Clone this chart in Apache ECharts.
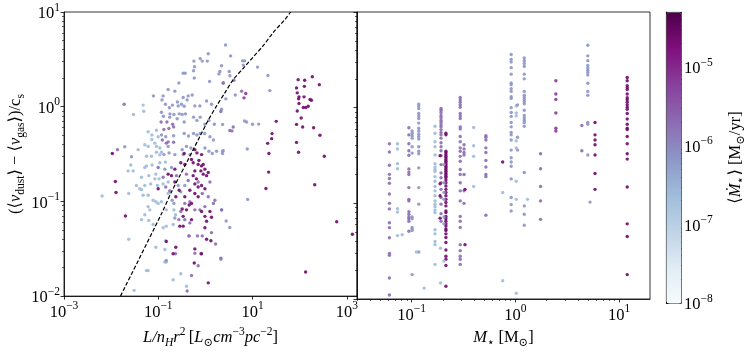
<!DOCTYPE html>
<html>
<head>
<meta charset="utf-8">
<script src="https://cdn.jsdelivr.net/npm/echarts@6/dist/echarts.min.js"></script>
<style>html,body{margin:0;padding:0;background:#fff}#main{width:748px;height:354px}</style>
</head>
<body>
<div id="main"></div>
<script>
// accretion rate groups (Msun/yr) used for the colour of each point
var mdotLight = 2.5e-7, mdotLav = 7e-7, mdotPurp = 2e-6, mdotMag = 7e-6, mdotDark = 2.5e-5;

// left panel: [L/nH r^2, dv/cs]
var leftLight = [[0.0478,1.04],[0.0493,0.895],[0.0298,0.826],[0.0916,0.565],[0.061,0.543],[0.073,0.502],[0.0995,0.482],[0.0845,0.412],[0.0518,0.396],[0.061,0.381],[0.0916,0.381],[0.108,0.366],[0.0374,0.352],[0.073,0.45],[0.0916,0.33],[0.108,0.31],[0.0562,0.30],[0.0718,0.30],[0.117,0.33],
  [0.0261,0.242],[0.0229,0.21],[0.0293,0.21],[0.0518,0.228],[0.0562,0.237],[0.074,0.242],[0.108,0.256],[0.142,0.26],[0.0888,0.194],[0.063,0.187],[0.044,0.18],[0.0845,0.173],[0.104,0.173],[0.0344,0.147],[0.0405,0.136],[0.044,0.133],[0.0518,0.147],[0.069,0.153],[0.0963,0.147],[0.127,0.153],[0.162,0.16],[0.0236,0.121],[0.0478,0.116],[0.061,0.116],[0.0778,0.103],[0.0888,0.099],[0.0995,0.0953],[0.117,0.099],[0.162,0.121],[0.00643,0.114],[0.061,0.0881],[0.066,0.0814],[0.0518,0.0723],[0.148,0.0814],[0.215,0.0814],[0.233,0.0723],[0.044,0.0642],[0.063,0.063],[0.0778,0.057],[0.127,0.0527],[0.148,0.0548],[0.207,0.057],[0.0236,0.0399],[0.0888,0.0328],[0.144,0.0384],[0.138,0.031],[0.138,0.0229],[0.148,0.0229],[0.0562,0.0186],[0.061,0.0186],[0.301,0.0172],[0.207,0.0149],[0.397,0.0127],[0.0307,0.0115]];
var leftLav = [[1.15,3.63],[0.777,3.22],[0.858,3.03],[0.571,3.03],[1.10,3.03],[0.590,2.64],[0.562,2.40],[2.03,2.35],[1.94,2.22],[0.338,2.26],[0.372,2.26],[0.581,2.01],[0.274,1.78],[1.23,1.85],
  [0.162,1.52],[0.225,1.46],[0.079,1.30],[0.127,1.30],[0.120,1.18],[0.338,1.25],[0.431,1.30],[0.525,1.33],[0.410,1.18],[0.256,1.12],[0.311,1.06],[0.142,1.06],[0.200,1.04],[0.265,1.02],[0.172,0.976],[0.355,1.01],[0.598,1.02],[0.764,1.02],[1.06,1.15],[1.35,1.06],
  [0.117,0.874],[0.129,0.794],[0.177,0.84],[0.215,0.826],[0.278,0.84],[0.322,0.826],[0.378,0.84],[0.175,0.776],[0.252,0.746],[0.355,0.689],[0.562,0.776],[0.661,0.717],[0.777,0.776],[0.977,0.652],[1.19,0.717],[1.55,0.652],
  [0.117,0.502],[0.144,0.482],[0.212,0.494],[0.355,0.522],[0.438,0.49],[0.562,0.522],[0.661,0.502],[0.777,0.522],[0.963,0.522],[1.25,0.482],[1.48,0.445],
  [0.162,0.381],[0.322,0.352],[0.397,0.381],[0.492,0.366],[0.977,0.366],[1.19,0.338],[1.40,0.32],[1.73,0.338],[2.32,0.338],
  [0.027,0.296],[0.132,0.312],[0.170,0.325],[0.225,0.312],[0.338,0.312],[0.469,0.312],[0.0195,0.378],
  [0.138,0.219],[0.191,0.228],[0.265,0.147],[0.301,0.126],[0.215,0.0953],[0.366,0.147],[0.225,0.0668],[0.445,0.0432],[0.148,0.0238],[0.197,0.103],
  [2.68,4.49],[3.43,3.44],[6.17,3.05],[6.79,3.05],[6.37,2.75],[12.8,2.62],[2.2,2.71],[3.21,2.35],[3.31,2.12],[2.39,1.78],[21.3,2.14],[4.31,1.33],[2.72,1.21],[23.4,1.48],[2.2,0.94],[6.79,0.706],[7.5,0.69],[10.0,0.652],[13.5,0.655],[2.32,0.65],[7.74,0.357],[2.39,0.344],[2.32,0.32],
  [7.9,0.105],[2.2,0.081],[2.76,0.062],[3.3,0.053],[2.14,0.0245]];
var leftPurp = [[2.40,1.78],[0.0189,1.06],[0.115,0.689],[0.153,0.689],[0.202,0.652],[0.212,0.612],[0.168,0.588],[0.132,0.574],[0.122,0.445],[0.148,0.412],[0.162,0.425],[0.212,0.421],[0.0136,0.352],
  [0.244,0.187],[0.397,0.194],[0.431,0.166],[0.703,0.160],[1.25,0.160],[0.858,0.121],[1.15,0.112],[1.59,0.103],[1.48,0.0953],[0.977,0.0881],[0.598,0.0814],[0.764,0.0814],[0.366,0.0953],[0.468,0.099],[0.301,0.0783],[0.274,0.0642],[0.366,0.0642],[0.468,0.0593],[0.453,0.0432],[0.680,0.0432],[0.858,0.0432],[0.598,0.0284],[0.803,0.028],[1.35,0.0468],[1.65,0.0355],[2.13,0.0252],[2.21,0.0814],[0.233,0.028],[0.508,0.0165],[0.703,0.0209],[0.41,0.0113],
  [0.127,0.180],[0.0995,0.228],[0.144,0.142],[0.175,0.129],
  [4.03,1.90],[5.87,1.46],[2.13,0.89],[3.9,0.61],[3.31,0.56],[3.66,0.555]];
var leftMag = [[7.2,1.38],[6.6,1.24]];
var leftDark = [[0.301,0.256],[0.366,0.246],[0.551,0.256],[0.703,0.246],[0.830,0.237],[0.598,0.210],[0.803,0.210],[0.977,0.219],[1.15,0.202],[0.551,0.187],[0.648,0.173],[0.901,0.194],[1.06,0.187],[0.598,0.153],[0.703,0.142],[0.830,0.147],[0.977,0.136],[0.468,0.131],[0.598,0.121],[0.703,0.112],[0.508,0.0953],[0.453,0.0916],[0.366,0.112],[0.236,0.112],[0.278,0.131],[0.225,0.160],[0.191,0.187],[0.225,0.219],[0.162,0.194],[0.322,0.083],[0.397,0.0814],[0.338,0.0695],[0.508,0.0642],[0.287,0.0548],[0.338,0.0548],[0.977,0.0695],[1.06,0.0617],[0.830,0.0783],[0.977,0.0527],[1.25,0.0783],[1.35,0.068],[0.148,0.0377],[0.236,0.0328],[0.207,0.028],[0.598,0.0315],[0.830,0.028],[1.06,0.0399],[1.31,0.0384],[0.581,0.0224],[1.15,0.0138],
  [0.0123,0.162],[0.0127,0.124],[0.0201,0.070],[0.0995,0.136],
  [0.0106,0.320],[0.598,0.352],[0.661,0.325],[0.830,0.312],[0.355,0.320],[0.508,0.277],[0.73,0.27],[0.90,0.246],
  [93,1.93],[128,1.90],[186,2.07],[262,1.71],[86,1.58],[126,1.64],[89,1.40],[97,1.27],[95,1.21],[124,1.27],[166,1.19],[178,1.17],[97,1.08],[120,0.98],[136,0.98],[152,1.01],[89,0.90],[108,0.76],[86,0.65],[116,0.61],[198,0.60],[270,0.50],[86,0.42],[95,0.33],[334,0.30],[31.9,0.70],[26,0.52],[25.5,0.46],[21,0.41],[22.3,0.32],
  [22,0.204],[19.3,0.137],[209,0.150],[612,0.061],[1320,0.045],[134,0.018]];

// dashed curve on the left panel
var curve = [[0.0158,0.01],[0.117,0.074],[0.191,0.126],[0.287,0.187],[0.398,0.256],[0.551,0.352],[0.763,0.483],[1.15,0.72],[1.73,1.02],[2.59,1.40],[3.89,1.93],[6.35,2.54],[10.4,3.36],[16.9,4.42],[27.5,6.07],[48.9,8.33],[64.6,10]];

// right panel: one column of points per stellar mass (Msun)
var starMass = [0.061,0.073,0.094,0.101,0.117,0.168,0.192,0.214,0.294,0.32,0.396,0.52,0.755,0.912,1.02,1.05,1.22,1.75,2.46,4.38,5.0,5.25,5.87,12.0,
  0.188,0.327,0.755,0.111,0.132,0.081,0.19,0.205,1.31,0.205];
var starMdot = [mdotPurp,mdotLight,mdotPurp,mdotLav,mdotLav,mdotLight,mdotPurp,mdotDark,mdotPurp,mdotPurp,mdotLight,mdotPurp,mdotLight,mdotLav,mdotLight,mdotLav,mdotLav,mdotPurp,mdotMag,mdotPurp,mdotLav,mdotLav,mdotDark,mdotDark,
  mdotDark,mdotDark,mdotDark,mdotLight,mdotLight,mdotLight,mdotLight,mdotLight,mdotLight,mdotLav];
var starDv = [
  [0.419,0.344,0.250,0.201,0.182,0.162,0.125,0.100,0.0875,0.0627,0.0557,0.0436,0.0300,0.0286,0.0166,0.0110],
  [0.42,0.37,0.26,0.23,0.088,0.081,0.046],
  [0.617,0.519,0.42,0.355,0.318,0.229,0.212,0.20,0.146,0.11,0.106,0.082,0.077,0.072,0.069,0.065,0.051],
  [0.57,0.54,0.51,0.48,0.39,0.335,0.072,0.069,0.056,0.054,0.052,0.018],
  [1.09,1.04,0.98,0.87,0.82,0.77,0.69,0.61,0.57,0.53,0.50,0.47,0.39,0.35,0.33,0.235,0.146,0.098,0.031],
  [0.64,0.54,0.44,0.39,0.32,0.26,0.24,0.226,0.215,0.19,0.17,0.15,0.135,0.12,0.106,0.098,0.092,0.085,0.080,0.053,0.048,0.04,0.037,0.023],
  [0.98,0.94,0.89,0.83,0.79,0.74,0.70,0.66,0.63,0.59,0.55,0.52,0.48,0.43,0.39,0.355,0.315,0.254,0.208,0.185,0.164,0.14,0.115,0.098,0.078,0.065],
  [0.54,0.52,0.35,0.337,0.323,0.31,0.298,0.286,0.275,0.264,0.254,0.244,0.235,0.226,0.217,0.208,0.20,0.192,0.185,0.175,0.164,0.152,0.14,0.13,0.12,0.11,0.102,0.094,0.083,0.080,0.073,0.069,0.065,0.061,0.058,0.054,0.052,0.048,0.044,0.039,0.0325,0.028,0.026,0.0224,0.0136],
  [1.28,1.21,1.14,1.07,1.01,0.87,0.82,0.77,0.63,0.60,0.50,0.44,0.38,0.35,0.31,0.275,0.226,0.20,0.164,0.135,0.106,0.073,0.065,0.056,0.037,0.032,0.028,0.026,0.023],
  [0.41,0.37,0.34,0.32,0.20,0.135,0.10],
  [0.62,0.40,0.31,0.15],
  [0.51,0.49,0.46,0.38,0.34,0.28,0.24,0.20,0.19,0.075],
  [0.13,0.0155],
  [3.6,3.2,3.0,2.62,2.24,1.81,1.74,1.58,1.48,1.30,1.25,1.0,0.89,0.81,0.70,0.63,0.55,0.52,0.46,0.36,0.30,0.27,0.244,0.18,0.115,0.097,0.083],
  [1.04,0.88,0.82,0.45,0.38,0.17,0.11,0.0115],
  [1.07,0.49,0.36],
  [3.3,3.1,2.9,2.7,2.24,2.0,1.48,1.35,1.28,1.22,1.16,1.10,0.94,0.83,0.78,0.74,0.70,0.64,0.21,0.094,0.077,0.059],
  [0.33,0.23,0.15,0.106,0.068],
  [1.91,1.39,1.22,0.88,0.61,0.57],
  [0.65,0.355],
  [4.5,3.48,3.10,2.76,2.6,2.46,2.33,2.19,1.80,1.48,1.35,0.70,0.67,0.32],
  [0.103],
  [0.70,0.52,0.46,0.41,0.32,0.205,0.14],
  [2.07,1.91,1.70,1.62,1.55,1.39,1.27,1.21,1.14,1.07,1.01,0.96,0.87,0.76,0.67,0.61,0.59,0.50,0.42,0.33,0.29,0.148,0.061,0.045,0.018],
  [0.315,0.16,0.12,0.07],
  [0.14,0.037],
  [0.27],
  [0.031],
  [0.013],
  [0.047],
  [0.034,0.0147],
  [0.025],
  [0.11],
  [0.254,0.164,0.13,0.11,0.072,0.061]
];

var bupu = ['#f7fcfd','#e0ecf4','#bfd3e6','#9ebcda','#8c96c6','#8c6bb1','#88419d','#810f7c','#4d004b'];
var mdotMin = 1e-8, mdotMax = 5e-5;

var F = "'Liberation Serif','DejaVu Serif',serif";

var leftData = [];
[[leftLight,mdotLight],[leftLav,mdotLav],[leftPurp,mdotPurp],[leftMag,mdotMag],[leftDark,mdotDark]].forEach(function(g){
  g[0].forEach(function(p){ leftData.push([p[0], p[1], Math.log10(g[1])]); });
});
var rightData = [];
starMass.forEach(function(m, i){
  starDv[i].forEach(function(v){ rightData.push([m, v, Math.log10(starMdot[i])]); });
});

function minorTicks(lo, hi){
  var out = [];
  for (var e = lo; e < hi; e++) for (var k = 2; k < 10; k++) out.push(+(k * Math.pow(10, e)).toPrecision(3));
  return out;
}
function pow10(v){
  var e = Math.round(Math.log10(v));
  return '{b|10}{e|' + (e < 0 ? '\u2212' + (-e) : e) + '}';
}
var tickRich = {
  b: {fontFamily:F, fontSize:16.5, color:'#000', lineHeight:21, verticalAlign:'bottom'},
  e: {fontFamily:F, fontSize:11.5, color:'#000', lineHeight:12, verticalAlign:'top'}
};
var nameRich = {
  n: {fontFamily:F, fontSize:16.5, color:'#000', lineHeight:23},
  i: {fontFamily:F, fontSize:16.5, fontStyle:'italic', color:'#000', lineHeight:23},
  sub: {fontFamily:F, fontSize:11.5, color:'#000', lineHeight:12, verticalAlign:'bottom'},
  isub: {fontFamily:F, fontSize:11.5, fontStyle:'italic', color:'#000', lineHeight:12, verticalAlign:'bottom'},
  sup: {fontFamily:F, fontSize:11.5, color:'#000', lineHeight:12, verticalAlign:'top'}
};

var lineCol = '#000';
function mainAxis(o){
  var base = {
    type:'log', logBase:10, splitLine:{show:false},
    axisLine:{show:true, lineStyle:{color:lineCol, width:0.8}},
    axisTick:{show:true, inside:false, length:3.5, lineStyle:{color:lineCol, width:0.8}},
    axisLabel:{show:true, formatter:pow10, rich:tickRich, margin:4},
    nameTextStyle:{rich:nameRich}
  };
  return echarts.util.merge(base, o, true);
}
function minorAxis(o){
  var base = {
    type:'log', logBase:10, splitLine:{show:false},
    axisLine:{show:false}, axisLabel:{show:false},
    axisTick:{show:true, inside:false, length:2, lineStyle:{color:lineCol, width:0.6}}
  };
  return echarts.util.merge(base, o, true);
}

var leftXTicks = [1e-3,1e-1,10,1000];
var yTicks = [0.01,0.1,1,10];
var rightXTicks = [0.1,1,10];
var cbTicks = [1e-8,1e-7,1e-6,1e-5];

var myChart = echarts.init(document.getElementById('main'));
var opt = {
  animation:false,
  backgroundColor:'#fff',
  grid:[
    {left:64, top:12, width:293, height:291, show:true, borderColor:lineCol, borderWidth:0.8, backgroundColor:'transparent'},
    {left:357, top:12, width:293, height:291, show:true, borderColor:lineCol, borderWidth:0.8, backgroundColor:'transparent'},
    {left:666, top:12, width:15, height:291, show:false}
  ],
  xAxis:[
    mainAxis({gridIndex:0, position:'bottom', min:1e-3, max:1650,
      axisTick:{customValues:leftXTicks}, axisLabel:{customValues:leftXTicks},
      name:'{i|L/n}{isub|H}{i|r}{sup|2} {n|[}{i|L}{sub|\u2299}{i|cm}{sup|\u22123}{i|pc}{sup|\u22122}{n|]}',
      nameLocation:'middle', nameGap:27}),
    mainAxis({gridIndex:1, position:'bottom', min:0.0297, max:19.9,
      axisTick:{customValues:rightXTicks}, axisLabel:{customValues:rightXTicks},
      name:'{i|M}{sub|\u22c6} {n|[M}{sub|\u2299}{n|]}', nameLocation:'middle', nameGap:27}),
    {gridIndex:2, type:'value', show:false, min:0, max:1},
    minorAxis({gridIndex:1, position:'bottom', min:0.0297, max:19.9, axisTick:{customValues:minorTicks(-2,2)}})
  ],
  yAxis:[
    mainAxis({gridIndex:0, position:'left', min:0.01, max:10,
      axisTick:{customValues:yTicks}, axisLabel:{customValues:yTicks},
      name:'{n|(\u27e8}{i|v}{sub|dust}{n|\u27e9 \u2212 \u27e8}{i|v}{sub|gas}{n|\u27e9)/c}{sub|s}',
      nameLocation:'middle', nameGap:36, nameRotate:90}),
    mainAxis({gridIndex:1, position:'left', min:0.01, max:10,
      axisTick:{customValues:yTicks}, axisLabel:{show:false}}),
    mainAxis({gridIndex:2, position:'right', min:mdotMin, max:mdotMax,
      axisLine:{show:true}, axisTick:{customValues:cbTicks}, axisLabel:{customValues:cbTicks},
      name:'{n|\u27e8}{i|\u1e40}{sub|\u22c6}{n|\u27e9 [M}{sub|\u2299}{n|/yr]}',
      nameLocation:'middle', nameGap:44, nameRotate:90}),
    minorAxis({gridIndex:0, position:'left', min:0.01, max:10, axisTick:{customValues:minorTicks(-2,1)}}),
    minorAxis({gridIndex:1, position:'left', min:0.01, max:10, axisTick:{customValues:minorTicks(-2,1)}}),
    minorAxis({gridIndex:2, position:'right', min:mdotMin, max:mdotMax, axisTick:{customValues:minorTicks(-8,-4)}})
  ],
  visualMap:{
    type:'continuous', min:Math.log10(mdotMin), max:Math.log10(mdotMax), dimension:2,
    seriesIndex:[0,1], inRange:{color:bupu}, orient:'vertical',
    left:666, top:12, itemWidth:15, itemHeight:291, padding:0,
    calculable:false, showLabel:false, text:null, hoverLink:false,
    borderColor:lineCol, borderWidth:0.8
  },
  series:[
    {type:'scatter', xAxisIndex:0, yAxisIndex:0, data:leftData, symbolSize:3.4, itemStyle:{opacity:0.9}},
    {type:'scatter', xAxisIndex:1, yAxisIndex:1, data:rightData, symbolSize:3.4, itemStyle:{opacity:0.9}},
    {type:'line', xAxisIndex:0, yAxisIndex:0, data:curve, smooth:0.3, symbol:'none',
      lineStyle:{color:'#000', width:1.2, type:[4,2]}, z:5}
  ]
};
myChart.setOption(opt);
</script>
</body>
</html>
